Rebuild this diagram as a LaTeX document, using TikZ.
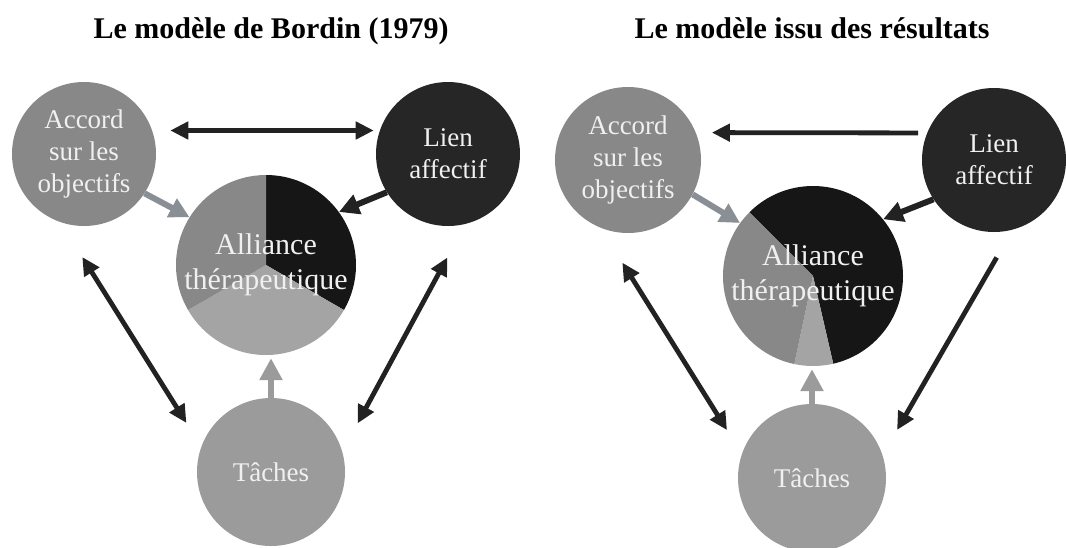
\documentclass[tikz,border=0pt]{standalone}
\usepackage{fontspec}
\setmainfont{Liberation Serif}
\usetikzlibrary{arrows.meta}
\definecolor{midgray}{HTML}{888888}
\definecolor{darkc}{HTML}{262626}
\definecolor{blk}{HTML}{161616}
\definecolor{lightg}{HTML}{A4A4A4}
\definecolor{tachg}{HTML}{9B9B9B}
\definecolor{txtc}{HTML}{F0F0F0}
\definecolor{arrgray}{HTML}{8A8F95}
\definecolor{arrline}{HTML}{222222}
\begin{document}
\begin{tikzpicture}[x=1pt,y=-1pt,
  titlefont/.style={font=\fontsize{30}{36}\selectfont\bfseries, anchor=base, text=black},
  bubble/.style={circle, inner sep=0pt, minimum size=#1, text=txtc, align=center,
                 font=\fontsize{27}{32}\selectfont},
  allfont/.style={circle, inner sep=0pt, minimum size=180pt, text=txtc, align=center,
                 font=\fontsize{30}{35}\selectfont},
  thinarrow/.style={draw=arrline, line width=4.8pt, -{Triangle[length=18pt,width=17pt]}},
  thindouble/.style={draw=arrline, line width=4.8pt, {Triangle[length=18pt,width=17pt]}-{Triangle[length=18pt,width=17pt]}},
  fatgray/.style={draw=arrgray, line width=6pt, -{Triangle[length=20pt,width=20pt]}},
  fatblack/.style={draw=arrline, line width=6pt, -{Triangle[length=20pt,width=20pt]}},
  upgray/.style={draw=tachg, line width=6pt, -{Triangle[length=22pt,width=22pt]}}
]
\useasboundingbox (0,0) rectangle (1066,547);
\fill[white] (0,0) rectangle (1066,547);

% ---------- titles ----------
\node[titlefont] (t1) at (271,38) {Le modèle de Bordin (1979)};
\node[titlefont] (t2) at (812,38) {Le modèle issu des résultats};

% ---------- left diagram ----------
\coordinate (c1) at (266,265);
\fill[blk]    (c1) -- ++(-90:90) arc[start angle=-90, end angle=30, radius=90] -- cycle;
\fill[lightg] (c1) -- ++(30:90) arc[start angle=30, end angle=150, radius=90] -- cycle;
\fill[midgray](c1) -- ++(150:90) arc[start angle=150, end angle=270, radius=90] -- cycle;
\node[allfont] (all1) at (c1) {Alliance\\thérapeutique};

\node[bubble=144pt, fill=midgray] (acc1) at (84,154) {Accord\\sur les\\objectifs};
\node[bubble=144pt, fill=darkc] (lien1) at (448,154) {Lien\\affectif};
\node[bubble=148pt, fill=tachg] (tac1) at (271,472) {Tâches};

\draw[thindouble, shorten <=18pt, shorten >=6pt] (acc1.19) -- (lien1.161);
\draw[thindouble, shorten <=41pt, shorten >=28pt] (acc1.251) -- (tac1.160);
\draw[thindouble, shorten <=38pt, shorten >=32pt] (lien1.284) -- (tac1.16);
\draw[fatgray] (acc1.-33) -- (all1.148);
\draw[fatblack] (lien1.212) -- (all1.36);
\draw[upgray, shorten >=3pt] (tac1.north) -- (tac1.north |- all1.south);

% ---------- right diagram ----------
\coordinate (c2) at (813,276);
\fill[blk]    (c2) -- ++(-135:90) arc[start angle=-135, end angle=77, radius=90] -- cycle;
\fill[lightg] (c2) -- ++(77:90) arc[start angle=77, end angle=102, radius=90] -- cycle;
\fill[midgray](c2) -- ++(102:90) arc[start angle=102, end angle=225, radius=90] -- cycle;
\node[allfont] (all2) at (c2) {Alliance\\thérapeutique};

\node[bubble=146pt, fill=midgray] (acc2) at (628,160) {Accord\\sur les\\objectifs};
\node[bubble=144pt, fill=darkc] (lien2) at (994,160) {Lien\\affectif};
\node[bubble=148pt, fill=tachg] (tac2) at (812,478) {Tâches};

\draw[thinarrow, shorten <=9pt, shorten >=16pt] (lien2.158) -- (acc2.22);
\draw[thindouble, shorten <=41pt, shorten >=28pt] (acc2.248) -- (tac2.161);
\draw[thinarrow, shorten <=32pt, shorten >=29pt] (lien2.285) -- (tac2.18);
\draw[fatgray] (acc2.-28) -- (all2.144);
\draw[fatblack] (lien2.213) -- (all2.39);
\draw[upgray, shorten >=3pt] (tac2.north) -- (tac2.north |- all2.south);
\end{tikzpicture}
\end{document}
